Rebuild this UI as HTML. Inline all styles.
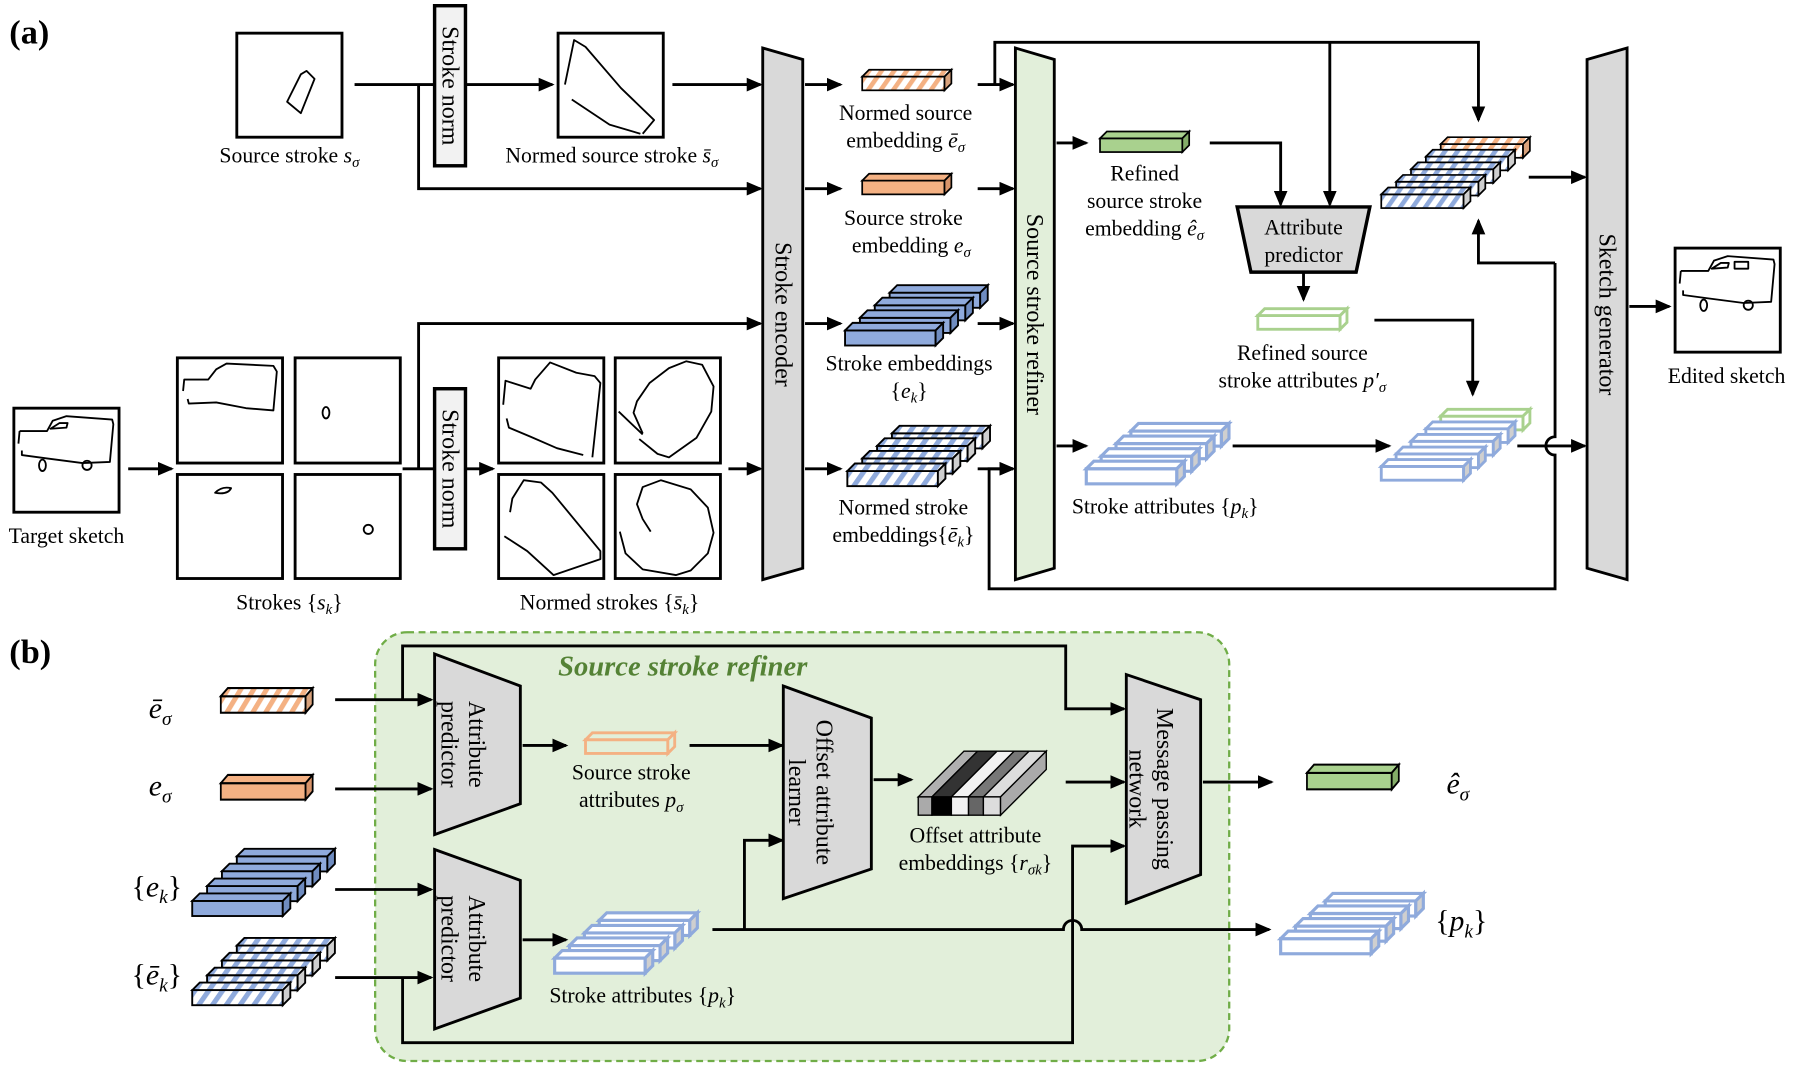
<!DOCTYPE html>
<html><head><meta charset="utf-8"><style>
html,body{margin:0;padding:0;background:#fff}
svg{display:block}
svg text{font-family:"Liberation Serif","Times New Roman",serif}
.l{font-size:19px;text-anchor:middle;font-family:"Liberation Serif",serif}
.v{font-size:21px;text-anchor:middle;font-family:"Liberation Serif",serif}
</style></head><body>
<svg width="1793" height="1069" viewBox="0 0 1568 935" xmlns="http://www.w3.org/2000/svg" font-family="Liberation Serif, serif">
<defs>
<marker id="a" markerWidth="14" markerHeight="12" refX="12" refY="6" orient="auto" markerUnits="userSpaceOnUse"><path d="M0,0 L14,6 L0,12 z" fill="#000"/></marker>
<pattern id="pHO" width="9" height="9" patternUnits="userSpaceOnUse" patternTransform="rotate(35)"><rect width="9" height="9" fill="#fff"/><rect width="4" height="9" fill="#f4b183"/></pattern>
<pattern id="pHB" width="9" height="9" patternUnits="userSpaceOnUse" patternTransform="rotate(35)"><rect width="9" height="9" fill="#fff"/><rect width="4" height="9" fill="#8faadc"/></pattern>
<g id="HO" stroke="#000" stroke-width="1.5"><rect width="72" height="12" fill="url(#pHO)"/><polygon points="0,0 6,-6 78,-6 72,0" fill="url(#pHO)"/><polygon points="72,0 78,-6 78,6 72,12" fill="#d9a27c"/></g>
<g id="O" stroke="#000" stroke-width="1.5"><rect width="72" height="12" fill="#f4b183"/><polygon points="0,0 6,-6 78,-6 72,0" fill="#f4b183"/><polygon points="72,0 78,-6 78,6 72,12" fill="#d9946a"/></g>
<g id="B" stroke="#000" stroke-width="1.5"><rect width="72" height="12" fill="#8faadc"/><polygon points="0,0 6,-6 78,-6 72,0" fill="#8faadc"/><polygon points="72,0 78,-6 78,6 72,12" fill="#6f8cc0"/></g>
<g id="HB" stroke="#000" stroke-width="1.5"><rect width="72" height="12" fill="url(#pHB)"/><polygon points="0,0 6,-6 78,-6 72,0" fill="url(#pHB)"/><polygon points="72,0 78,-6 78,6 72,12" fill="#cfcfcf"/></g>
<g id="OB" stroke="#8faadc" stroke-width="2.5"><rect width="72" height="12" fill="#fff"/><polygon points="0,0 6,-6 78,-6 72,0" fill="#fff"/><polygon points="72,0 78,-6 78,6 72,12" fill="#cfcfcf"/></g>
<g id="G" stroke="#000" stroke-width="1.5"><rect width="72" height="12" fill="#a9d18e"/><polygon points="0,0 6,-6 78,-6 72,0" fill="#a9d18e"/><polygon points="72,0 78,-6 78,6 72,12" fill="#84ad68"/></g>
<g id="GO" stroke="#a9d18e" stroke-width="2.5"><rect width="72" height="12" fill="#fff"/><polygon points="0,0 6,-6 78,-6 72,0" fill="#fff"/><polygon points="72,0 78,-6 78,6 72,12" fill="#fff"/></g>
<g id="OO" stroke="#f4b183" stroke-width="2.5"><rect width="72" height="12" fill="#e2efda"/><polygon points="0,0 6,-6 78,-6 72,0" fill="#e2efda"/><polygon points="72,0 78,-6 78,6 72,12" fill="#e2efda"/></g>
</defs>

<text x="8" y="38" font-family="Liberation Serif, serif" style="font-size:30px;font-weight:bold">(a)</text>
<text x="8" y="580" font-family="Liberation Serif, serif" style="font-size:30px;font-weight:bold">(b)</text>

<g fill="none" stroke="#000" stroke-width="2.5">
<rect x="207" y="29" width="92" height="91"/>
<rect x="488" y="29" width="92" height="91"/>
<rect x="12" y="357" width="92" height="91"/>
<rect x="155" y="313" width="92" height="92"/><rect x="258" y="313" width="92" height="92"/>
<rect x="155" y="415" width="92" height="91"/><rect x="258" y="415" width="92" height="91"/>
<rect x="436" y="313" width="92" height="92"/><rect x="538" y="313" width="92" height="92"/>
<rect x="436" y="415" width="92" height="91"/><rect x="538" y="415" width="92" height="91"/>
<rect x="1465" y="217" width="92" height="91"/>
</g>
<g fill="none" stroke="#000" stroke-width="1.6" stroke-linejoin="round">
<path transform="translate(207,29)" d="M44,60 L56,36 L61,33 L68,40 L56,70 Z"/>
<path transform="translate(488,29)" d="M6,45 L14,6 L24,12 L55,48 L84,76 L74,88 M12,58 L45,80 L72,88"/>
<path transform="translate(12,357)" d="M5,20 L29,20 L34,11 L46,7 L86,10 L87,14 L84,47 L60,48 L29,44 L7,41 L7,37 M5,20 L4,31 M32,18 L46,17 L47,13 L40,13 Z"/>
<ellipse cx="37" cy="407" rx="3" ry="5" fill="none"/><ellipse cx="76" cy="407" rx="4" ry="4"/>
<path transform="translate(1465,217)" d="M5,20 L29,20 L34,11 L46,7 L86,10 L87,14 L84,47 L60,48 L29,44 L7,41 L7,37 M5,20 L4,31 M32,18 L46,17 L47,13 L40,13 Z M52,12 L64,12 L64,18 L52,18 Z"/>
<ellipse cx="1490" cy="267" rx="3" ry="5"/><ellipse cx="1529" cy="267" rx="4" ry="4"/>
<path transform="translate(155,313)" d="M5,29 L6,19 L27,19 L34,10 L43,5 L84,7 L87,12 L84,46 L60,44 L34,39 L10,40 L9,36"/>
<ellipse cx="285" cy="361" rx="3" ry="5"/>
<path d="M188,431 Q194,425 202,427 Q199,433 188,431 Z"/>
<ellipse cx="322" cy="463" rx="4" ry="4"/>
<path transform="translate(436,313)" d="M4,41 L6,20 L28,27 L32,19 L45,4 L68,13 L84,16 L89,22 L82,87 M7,53 L9,61 L28,69 L51,79 L74,85"/>
<path transform="translate(538,313)" d="M3,47 L24,67 M24,66 L16,48 L19,38 L30,22 L47,9 L62,3 L76,6 L86,25 L84,47 L71,70 L47,87 L37,84 L21,71"/>
<path transform="translate(436,415)" d="M10,33 L12,21 L22,5 L37,7 L47,16 L89,67 L89,74 L48,88 L25,67 L5,54"/>
<path transform="translate(538,415)" d="M31,50 L24,39 L19,26 L24,11 L40,5 L66,13 L81,29 L86,51 L81,69 L66,84 L53,88 L24,83 L9,69 L4,50"/>
</g>

<text class="l" x="253" y="142">Source stroke <tspan font-style="italic">s</tspan><tspan font-style="italic" font-size="13" dy="4">σ</tspan></text>
<text class="l" x="535" y="142">Normed source stroke <tspan font-style="italic">s̄</tspan><tspan font-style="italic" font-size="13" dy="4">σ</tspan></text>
<text class="l" x="58" y="475">Target sketch</text>
<text class="l" x="253" y="533">Strokes {<tspan font-style="italic">s</tspan><tspan font-style="italic" font-size="13" dy="4">k</tspan><tspan dy="-4">}</tspan></text>
<text class="l" x="533" y="533">Normed strokes {<tspan font-style="italic">s̄</tspan><tspan font-style="italic" font-size="13" dy="4">k</tspan><tspan dy="-4">}</tspan></text>
<text class="l" x="1510" y="335">Edited sketch</text>

<rect x="380" y="5" width="27" height="140" fill="#f2f2f2" stroke="#000" stroke-width="3"/>
<rect x="380" y="340" width="27" height="140" fill="#f2f2f2" stroke="#000" stroke-width="3"/>
<text class="v" transform="translate(387,75) rotate(90)">Stroke norm</text>
<text class="v" transform="translate(387,410) rotate(90)">Stroke norm</text>

<polygon points="667,42 702,52 702,497 667,507" fill="#d9d9d9" stroke="#000" stroke-width="2.5"/>
<text class="v" transform="translate(678,275) rotate(90)">Stroke encoder</text>
<polygon points="888,42 922,52 922,497 888,507" fill="#e2efda" stroke="#000" stroke-width="2.5"/>
<text class="v" transform="translate(898,275) rotate(90)">Source stroke refiner</text>
<polygon points="1388,52 1423,42 1423,507 1388,497" fill="#d9d9d9" stroke="#000" stroke-width="2.5"/>
<text class="v" transform="translate(1399,275) rotate(90)">Sketch generator</text>

<polygon points="1082,181 1198,181 1186,238 1094,238" fill="#d9d9d9" stroke="#000" stroke-width="3"/>
<text class="l" x="1140" y="205" font-size="20">Attribute</text>
<text class="l" x="1140" y="229" font-size="20">predictor</text>

<g fill="none" stroke="#000" stroke-width="2.5">
<path d="M310,74 H380"/><path d="M407,74 H483" marker-end="url(#a)"/>
<path d="M366,74 V165 H665" marker-end="url(#a)"/>
<path d="M588,74 H665" marker-end="url(#a)"/>
<path d="M112,410 H150" marker-end="url(#a)"/>
<path d="M352,410 H380"/><path d="M366,410 V283 H665" marker-end="url(#a)"/>
<path d="M407,410 H431" marker-end="url(#a)"/>
<path d="M637,410 H665" marker-end="url(#a)"/>
<path d="M704,74 H735" marker-end="url(#a)"/>
<path d="M704,165 H735" marker-end="url(#a)"/>
<path d="M704,283 H735" marker-end="url(#a)"/>
<path d="M704,410 H735" marker-end="url(#a)"/>
<path d="M855,74 H886" marker-end="url(#a)"/>
<path d="M855,165 H886" marker-end="url(#a)"/>
<path d="M855,283 H886" marker-end="url(#a)"/>
<path d="M870,74 V37 H1293 V105" marker-end="url(#a)"/>
<path d="M1163,37 V179" marker-end="url(#a)"/>
<path d="M855,410 H886" marker-end="url(#a)"/>
<path d="M1360,230 V382 A8,8 0 0 0 1360,398 V515 H865 V410 H886" marker-end="url(#a)"/>
<path d="M1360,230 H1293 V193" marker-end="url(#a)"/>
<path d="M924,125 H950" marker-end="url(#a)"/>
<path d="M1058,125 H1120 V179" marker-end="url(#a)"/>
<path d="M1140,238 V262" marker-end="url(#a)"/>
<path d="M1202,280 H1288 V345" marker-end="url(#a)"/>
<path d="M1337,155 H1386" marker-end="url(#a)"/>
<path d="M924,390 H950" marker-end="url(#a)"/>
<path d="M1078,390 H1215" marker-end="url(#a)"/>
<path d="M1327,390 H1386" marker-end="url(#a)"/>
<path d="M1425,268 H1460" marker-end="url(#a)"/>
</g>

<use href="#HO" transform="translate(754,67) scale(1)"/>
<use href="#O" transform="translate(754,158)"/>
<g transform="translate(739,289)">
<use href="#B" transform="translate(39,-33) scale(1.1)"/><use href="#B" transform="translate(26,-22) scale(1.1)"/><use href="#B" transform="translate(13,-11) scale(1.1)"/><use href="#B" transform="scale(1.1)"/></g>
<g transform="translate(741,412)">
<use href="#HB" transform="translate(39,-33) scale(1.1)"/><use href="#HB" transform="translate(26,-22) scale(1.1)"/><use href="#HB" transform="translate(13,-11) scale(1.1)"/><use href="#HB" transform="scale(1.1)"/></g>
<use href="#G" transform="translate(962,121)"/>
<use href="#GO" transform="translate(1100,276)"/>
<g transform="translate(950,410)">
<use href="#OB" transform="translate(39,-33) scale(1.1)"/><use href="#OB" transform="translate(26,-22) scale(1.1)"/><use href="#OB" transform="translate(13,-11) scale(1.1)"/><use href="#OB" transform="scale(1.1)"/></g>
<g transform="translate(1208,408)">
<use href="#GO" transform="translate(52,-44)"/><use href="#OB" transform="translate(39,-33)"/><use href="#OB" transform="translate(26,-22)"/><use href="#OB" transform="translate(13,-11)"/><use href="#OB"/></g>
<g transform="translate(1208,170)">
<use href="#HO" transform="translate(52,-44)"/><use href="#HB" transform="translate(39,-33)"/><use href="#HB" transform="translate(26,-22)"/><use href="#HB" transform="translate(13,-11)"/><use href="#HB"/></g>

<text class="l" x="792" y="105">Normed source</text>
<text class="l" x="792" y="129">embedding <tspan font-style="italic">ē</tspan><tspan font-style="italic" font-size="13" dy="4">σ</tspan></text>
<text class="l" x="790" y="197">Source stroke</text>
<text class="l" x="797" y="221">embedding <tspan font-style="italic">e</tspan><tspan font-style="italic" font-size="13" dy="4">σ</tspan></text>
<text class="l" x="795" y="324">Stroke embeddings</text>
<text class="l" x="795" y="348">{<tspan font-style="italic">e</tspan><tspan font-style="italic" font-size="13" dy="4">k</tspan><tspan dy="-4">}</tspan></text>
<text class="l" x="790" y="450">Normed stroke</text>
<text class="l" x="790" y="474">embeddings{<tspan font-style="italic">ē</tspan><tspan font-style="italic" font-size="13" dy="4">k</tspan><tspan dy="-4">}</tspan></text>
<text class="l" x="1001" y="158">Refined</text>
<text class="l" x="1001" y="182">source stroke</text>
<text class="l" x="1001" y="206">embedding <tspan font-style="italic">ê</tspan><tspan font-style="italic" font-size="13" dy="4">σ</tspan></text>
<text class="l" x="1139" y="315">Refined source</text>
<text class="l" x="1139" y="339">stroke attributes <tspan font-style="italic">p′</tspan><tspan font-style="italic" font-size="13" dy="4">σ</tspan></text>
<text class="l" x="1019" y="449">Stroke attributes {<tspan font-style="italic">p</tspan><tspan font-style="italic" font-size="13" dy="4">k</tspan><tspan dy="-4">}</tspan></text>

<rect x="328" y="553" width="747" height="375" rx="28" fill="#e2efda" stroke="#70ad47" stroke-width="2" stroke-dasharray="6,4"/>
<text x="597" y="591" text-anchor="middle" font-family="Liberation Serif, serif" style="font-size:25px;font-style:italic;font-weight:bold;fill:#548235">Source stroke refiner</text>

<text x="140" y="628" text-anchor="middle" font-size="26" font-style="italic">ē<tspan font-size="17" dy="6">σ</tspan></text>
<text x="140" y="696" text-anchor="middle" font-size="26" font-style="italic">e<tspan font-size="17" dy="6">σ</tspan></text>
<text x="137" y="784" text-anchor="middle" font-size="26">{<tspan font-style="italic">e</tspan><tspan font-style="italic" font-size="17" dy="6">k</tspan><tspan dy="-6">}</tspan></text>
<text x="137" y="861" text-anchor="middle" font-size="26">{<tspan font-style="italic">ē</tspan><tspan font-style="italic" font-size="17" dy="6">k</tspan><tspan dy="-6">}</tspan></text>
<text x="1275" y="694" text-anchor="middle" font-size="26" font-style="italic">ê<tspan font-size="17" dy="6">σ</tspan></text>
<text x="1278" y="814" text-anchor="middle" font-size="26">{<tspan font-style="italic">p</tspan><tspan font-style="italic" font-size="17" dy="6">k</tspan><tspan dy="-6">}</tspan></text>

<use href="#HO" transform="translate(193,609) scale(1.03,1.2)"/>
<use href="#O" transform="translate(193,685) scale(1.03,1.2)"/>
<g transform="translate(168,788)">
<use href="#B" transform="translate(39,-39) scale(1.1)"/><use href="#B" transform="translate(26,-26) scale(1.1)"/><use href="#B" transform="translate(13,-13) scale(1.1)"/><use href="#B" transform="scale(1.1)"/></g>
<g transform="translate(168,866)">
<use href="#HB" transform="translate(39,-39) scale(1.1)"/><use href="#HB" transform="translate(26,-26) scale(1.1)"/><use href="#HB" transform="translate(13,-13) scale(1.1)"/><use href="#HB" transform="scale(1.1)"/></g>
<use href="#OO" transform="translate(512,647)"/>
<g transform="translate(485,838)">
<use href="#OB" transform="translate(39,-33) scale(1.1)"/><use href="#OB" transform="translate(26,-22) scale(1.1)"/><use href="#OB" transform="translate(13,-11) scale(1.1)"/><use href="#OB" transform="scale(1.1)"/></g>
<g transform="translate(1120,821)">
<use href="#OB" transform="translate(39,-33) scale(1.1)"/><use href="#OB" transform="translate(26,-22) scale(1.1)"/><use href="#OB" transform="translate(13,-11) scale(1.1)"/><use href="#OB" transform="scale(1.1)"/></g>
<use href="#G" transform="translate(1143,676) scale(1.03,1.2)"/>

<g stroke="#000" stroke-width="1.2">
<polygon points="803,697 815,697 855,657 843,657" fill="#b0b0b0"/>
<polygon points="815,697 832,697 872,657 855,657" fill="#333"/>
<polygon points="832,697 847,697 887,657 872,657" fill="#f2f2f2"/>
<polygon points="847,697 860,697 900,657 887,657" fill="#777"/>
<polygon points="860,697 875,697 915,657 900,657" fill="#ddd"/>
<rect x="803" y="697" width="12" height="16" fill="#aaa"/>
<rect x="815" y="697" width="17" height="16" fill="#000"/>
<rect x="832" y="697" width="15" height="16" fill="#f2f2f2"/>
<rect x="847" y="697" width="13" height="16" fill="#666"/>
<rect x="860" y="697" width="15" height="16" fill="#ddd"/>
<polygon points="875,697 915,657 915,673 875,713" fill="#aaa"/>
</g>

<polygon points="380,572 455,600 455,703 380,730" fill="#d9d9d9" stroke="#000" stroke-width="2.5"/>
<text class="v" transform="translate(408,651) rotate(90)"><tspan x="0" dy="-2">Attribute</tspan><tspan x="0" dy="24">predictor</tspan></text>
<polygon points="380,743 455,770 455,873 380,900" fill="#d9d9d9" stroke="#000" stroke-width="2.5"/>
<text class="v" transform="translate(408,821) rotate(90)"><tspan x="0" dy="-2">Attribute</tspan><tspan x="0" dy="24">predictor</tspan></text>
<polygon points="685,600 762,628 762,760 685,786" fill="#d9d9d9" stroke="#000" stroke-width="2.5"/>
<text class="v" transform="translate(712,693) rotate(90)"><tspan x="0" dy="-2">Offset attribute</tspan><tspan x="0" dy="24">learner</tspan></text>
<polygon points="985,590 1050,612 1050,765 985,790" fill="#d9d9d9" stroke="#000" stroke-width="2.5"/>
<text class="v" transform="translate(1010,690) rotate(90)"><tspan x="0" dy="-2">Message passing</tspan><tspan x="0" dy="24">network</tspan></text>

<text class="l" x="552" y="682">Source stroke</text>
<text class="l" x="552" y="706">attributes <tspan font-style="italic">p</tspan><tspan font-style="italic" font-size="13" dy="4">σ</tspan></text>
<text class="l" x="853" y="737">Offset attribute</text>
<text class="l" x="853" y="761">embeddings {<tspan font-style="italic">r</tspan><tspan font-style="italic" font-size="13" dy="4">σk</tspan><tspan dy="-4">}</tspan></text>
<text class="l" x="562" y="877">Stroke attributes {<tspan font-style="italic">p</tspan><tspan font-style="italic" font-size="13" dy="4">k</tspan><tspan dy="-4">}</tspan></text>

<g fill="none" stroke="#000" stroke-width="2.5">
<path d="M293,612 H377" marker-end="url(#a)"/>
<path d="M293,690 H377" marker-end="url(#a)"/>
<path d="M293,778 H377" marker-end="url(#a)"/>
<path d="M293,855 H377" marker-end="url(#a)"/>
<path d="M352,612 V565 H932 V620 H983" marker-end="url(#a)"/>
<path d="M352,855 V912 H938 V740 H983" marker-end="url(#a)"/>
<path d="M457,652 H495" marker-end="url(#a)"/>
<path d="M603,652 H684" marker-end="url(#a)"/>
<path d="M764,682 H797" marker-end="url(#a)"/>
<path d="M932,684 H983" marker-end="url(#a)"/>
<path d="M1052,684 H1112" marker-end="url(#a)"/>
<path d="M457,822 H495" marker-end="url(#a)"/>
<path d="M623,813 H930 A8,8 0 0 1 946,813 H1110" marker-end="url(#a)"/>
<path d="M651,813 V735 H684" marker-end="url(#a)"/>
</g>
</svg>
</body></html>
